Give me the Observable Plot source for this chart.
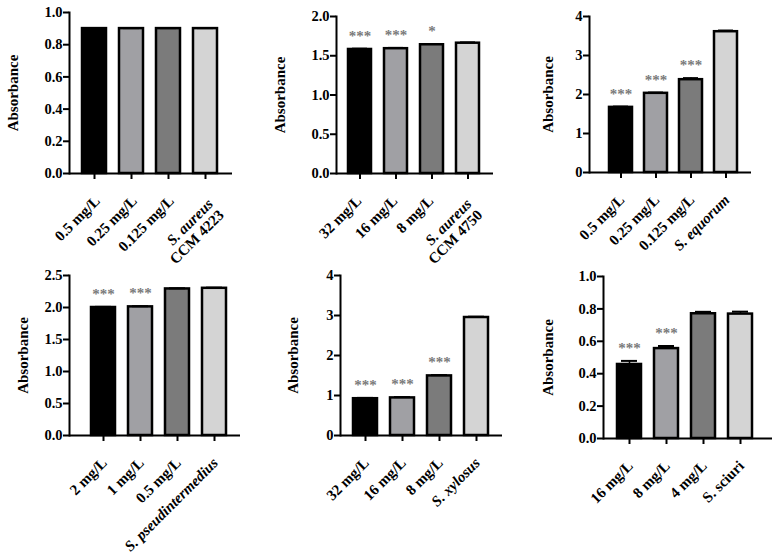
<!DOCTYPE html>
<html>
<head>
<meta charset="utf-8">
<script src="https://cdn.jsdelivr.net/npm/d3@7"></script>
<script src="https://cdn.jsdelivr.net/npm/@observablehq/plot@0.6"></script>
<style>
  html, body { margin: 0; padding: 0; background: #fff; }
  #wrap { position: relative; width: 775px; height: 556px; overflow: hidden; }
  #wrap svg { position: absolute; }
</style>
</head>
<body>
<div id="wrap"></div>
<script>
// ---------- data ----------
const p1Labels = ["0.5 mg/L", "0.25 mg/L", "0.125 mg/L", "S. aureus"];
const p1Sublabels = ["", "", "", "CCM 4223"];
const p1Values = [0.90, 0.90, 0.90, 0.90];
const p1Errors = [0.003, 0.003, 0.003, 0.003];
const p1Stars = ["", "", "", ""];
const p1Ticks = [0, 0.2, 0.4, 0.6, 0.8, 1.0];

const p2Labels = ["32 mg/L", "16 mg/L", "8 mg/L", "S. aureus"];
const p2Sublabels = ["", "", "", "CCM 4750"];
const p2Values = [1.58, 1.59, 1.64, 1.66];
const p2Errors = [0.01, 0.01, 0.01, 0.01];
const p2Stars = ["***", "***", "*", ""];
const p2Ticks = [0, 0.5, 1.0, 1.5, 2.0];

const p3Labels = ["0.5 mg/L", "0.25 mg/L", "0.125 mg/L", "S. equorum"];
const p3Sublabels = ["", "", "", ""];
const p3Values = [1.67, 2.03, 2.38, 3.61];
const p3Errors = [0.02, 0.02, 0.04, 0.03];
const p3Stars = ["***", "***", "***", ""];
const p3Ticks = [0, 1, 2, 3, 4];

const p4Labels = ["2 mg/L", "1 mg/L", "0.5 mg/L", "S. pseudintermedius"];
const p4Sublabels = ["", "", "", ""];
const p4Values = [2.00, 2.01, 2.29, 2.30];
const p4Errors = [0.01, 0.01, 0.01, 0.01];
const p4Stars = ["***", "***", "", ""];
const p4Ticks = [0, 0.5, 1.0, 1.5, 2.0, 2.5];

const p5Labels = ["32 mg/L", "16 mg/L", "8 mg/L", "S. xylosus"];
const p5Sublabels = ["", "", "", ""];
const p5Values = [0.92, 0.94, 1.49, 2.95];
const p5Errors = [0.02, 0.02, 0.02, 0.02];
const p5Stars = ["***", "***", "***", ""];
const p5Ticks = [0, 1, 2, 3, 4];

const p6Labels = ["16 mg/L", "8 mg/L", "4 mg/L", "S. sciuri"];
const p6Sublabels = ["", "", "", ""];
const p6Values = [0.457, 0.555, 0.770, 0.768];
const p6Errors = [0.022, 0.016, 0.012, 0.015];
const p6Stars = ["***", "***", "", ""];
const p6Ticks = [0, 0.2, 0.4, 0.6, 0.8, 1.0];

const yLabel = "Absorbance";

// ---------- style / layout ----------
const barColors = ["#000000", "#a0a0a4", "#7b7b7b", "#d4d4d4"];
const starColor = "#7a7a7a";

const panels = [
  {data: [p1Labels, p1Sublabels, p1Values, p1Errors, p1Stars, p1Ticks], fmt: ".1f", italic: [0,0,0,1],
   left: 0, top: 0, w: 260, h: 250, ml: 69, mr: 28, mt: 12, mb: 77, c1: 94, step: 37.3, ylx: 13, ldx: 3},
  {data: [p2Labels, p2Sublabels, p2Values, p2Errors, p2Stars, p2Ticks], fmt: ".1f", italic: [0,0,0,1],
   left: 260, top: 0, w: 260, h: 250, ml: 76, mr: 27, mt: 16, mb: 77, c1: 100, step: 36, ylx: 20, ldx: -1},
  {data: [p3Labels, p3Sublabels, p3Values, p3Errors, p3Stars, p3Ticks], fmt: "d", italic: [0,0,0,1],
   left: 515, top: 0, w: 260, h: 250, ml: 74, mr: 24, mt: 16, mb: 78, c1: 104, step: 35.7, ylx: 33, ldx: 1},
  {data: [p4Labels, p4Sublabels, p4Values, p4Errors, p4Stars, p4Ticks], fmt: ".1f", italic: [0,0,0,1],
   left: 0, top: 250, w: 260, h: 306, ml: 69, mr: 20, mt: 25, mb: 121, c1: 103, step: 37, ylx: 23, ldx: 1},
  {data: [p5Labels, p5Sublabels, p5Values, p5Errors, p5Stars, p5Ticks], fmt: "d", italic: [0,0,0,1],
   left: 260, top: 250, w: 260, h: 306, ml: 80, mr: 18, mt: 25, mb: 121, c1: 105, step: 37, ylx: 33, ldx: 1},
  {data: [p6Labels, p6Sublabels, p6Values, p6Errors, p6Stars, p6Ticks], fmt: ".1f", italic: [0,0,0,0],
   left: 515, top: 250, w: 260, h: 306, ml: 88, mr: 3, mt: 26, mb: 118, c1: 114, step: 37, ylx: 33, ldx: 1}
];

const FONT = "'Liberation Serif', 'Times New Roman', serif";
const LDY = 25;

function drawPanel(P) {
  const [labels, subs, values, errors, stars, ticks] = P.data;
  const rows = labels.map((label, i) => ({
    label, sub: subs[i], value: values[i], err: errors[i], star: stars[i],
    color: barColors[i], italic: !!P.italic[i]
  }));
  const n = labels.length;
  const x0 = P.c1 - P.step / 2;
  const x1 = P.c1 + P.step * (n - 0.5);
  const labelOpts = {
    x: "label", frameAnchor: "bottom", rotate: -45, textAnchor: "end", lineAnchor: "middle",
    fontSize: 15, fill: "black", fontWeight: "bold"
  };
  const hasSub = d => d.sub !== "";
  const svg = Plot.plot({
    width: P.w, height: P.h,
    marginLeft: P.ml, marginRight: P.mr, marginTop: P.mt, marginBottom: P.mb,
    style: {fontFamily: FONT, fontWeight: "bold", fontSize: "14px", background: "transparent", color: "black", overflow: "visible"},
    x: {domain: labels, range: [x0, x1], paddingInner: 0.35, paddingOuter: 0.175},
    y: {domain: [0, ticks[ticks.length - 1]]},
    color: {type: "identity"},
    marks: [
      Plot.barY(rows, {x: "label", y: "value", fill: "color", stroke: "black", strokeWidth: 2.5}),
      Plot.ruleX(rows, {x: "label", y1: "value", y2: d => d.value + d.err, stroke: "black", strokeWidth: 1.5}),
      Plot.tickY(rows, {x: "label", y: d => d.value + d.err, stroke: "black", strokeWidth: 2, insetLeft: 4, insetRight: 4}),
      Plot.text(rows.filter(d => d.star !== ""), {x: "label", y: d => d.value + d.err, text: "star",
        lineAnchor: "bottom", dy: -8, fill: starColor, fontSize: 15, fontWeight: "bold"}),
      Plot.ruleY([0], {stroke: "black", strokeWidth: 2}),
      Plot.frame({anchor: "left", stroke: "black", strokeWidth: 2}),
      Plot.axisY({ticks, tickFormat: d3.format(P.fmt), tickSize: 6, tickPadding: 1, strokeWidth: 2, label: null, fontSize: 14.5}),
      Plot.axisX({tickSize: 6, strokeWidth: 2, tickFormat: () => "", label: null}),
      Plot.text(rows.filter(d => !d.italic && !hasSub(d)), {...labelOpts, text: "label", dx: P.ldx, dy: LDY}),
      Plot.text(rows.filter(d => d.italic && !hasSub(d)), {...labelOpts, text: "label", dx: P.ldx, dy: LDY, fontStyle: "italic"}),
      Plot.text(rows.filter(d => hasSub(d)), {...labelOpts, text: "label", dx: P.ldx + 2, dy: LDY + 3, fontStyle: "italic"}),
      Plot.text(rows.filter(d => hasSub(d)), {...labelOpts, text: "sub", dx: P.ldx + 13, dy: LDY + 14}),
      Plot.text([yLabel], {text: d => d, frameAnchor: "left", dx: P.ylx - P.ml, rotate: -90,
        lineAnchor: "middle", textAnchor: "middle", fontSize: 15, fill: "black"})
    ]
  });
  svg.style.left = P.left + "px";
  svg.style.top = P.top + "px";
  return svg;
}

const wrap = document.getElementById("wrap");
for (const P of panels) wrap.appendChild(drawPanel(P));
</script>
</body>
</html>
